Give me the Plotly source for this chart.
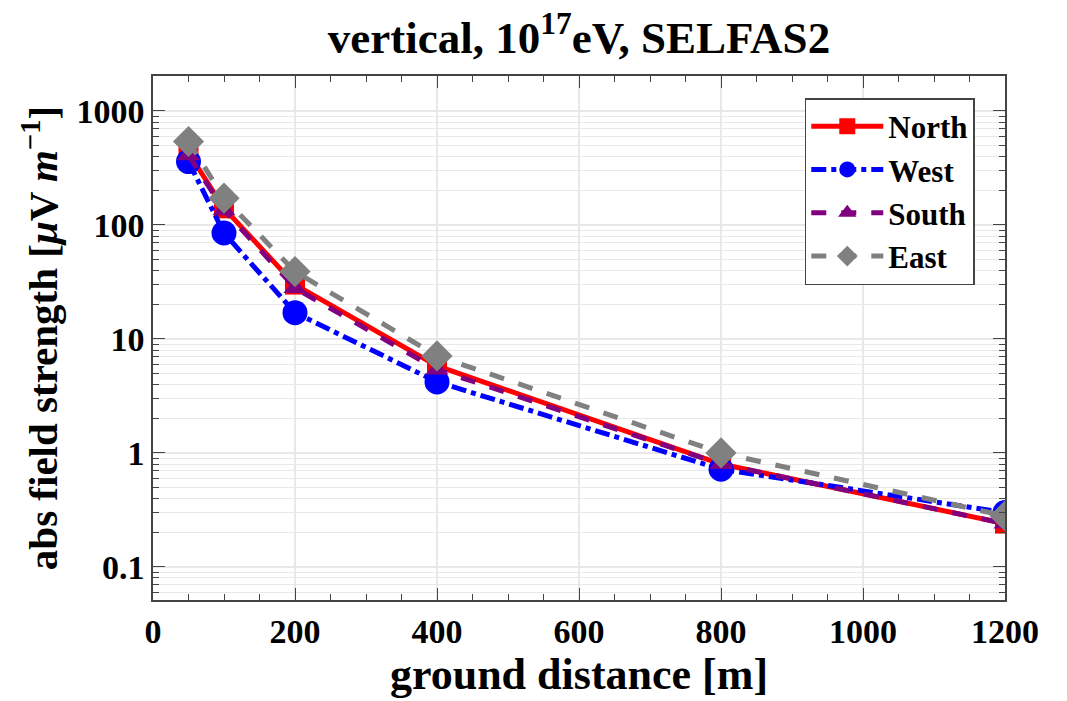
import plotly.graph_objects as go

distance = [50, 100, 200, 400, 800, 1200]
north = [430, 140, 30, 5.8, 0.80, 0.24]
west = [360, 85, 17, 4.2, 0.72, 0.30]
south = [410, 135, 28, 5.4, 0.80, 0.24]
east = [540, 172, 39, 7.1, 1.0, 0.28]

series = [
    ("North", north, "red", "solid", "square", 20),
    ("West", west, "blue", "dashdot", "circle", 25),
    ("South", south, "purple", "dash", "triangle-up", 20),
    ("East", east, "gray", "dash", "diamond", 24),
]

fig = go.Figure()
for name, vals, col, dash, sym, size in series:
    fig.add_trace(go.Scatter(
        x=distance, y=vals, name="<b>%s</b>" % name, mode="lines+markers",
        line=dict(color=col, width=5, dash=dash),
        marker=dict(color=col, symbol=sym, size=size),
    ))

font_family = "Liberation Serif"
fig.update_layout(
    width=1067, height=701,
    margin=dict(l=153, r=62, t=76, b=101),
    paper_bgcolor="white", plot_bgcolor="white",
    font=dict(family=font_family, color="black", size=34),
    title=dict(text="<b>vertical, 10<sup>17</sup>eV, SELFAS2</b>",
               xref="paper", x=0.5, xanchor="center", y=0.947, yanchor="middle",
               font=dict(size=45, family=font_family)),
    legend=dict(x=0.765, y=0.958, xanchor="left", yanchor="top",
                bgcolor="white", bordercolor="#444", borderwidth=1.5,
                font=dict(size=31, family=font_family), itemwidth=72,
                tracegroupgap=0),
    showlegend=True,
)
fig.update_xaxes(
    range=[0, 1200], tickvals=[0, 200, 400, 600, 800, 1000, 1200],
    ticktext=["<b>%d</b>" % v for v in [0, 200, 400, 600, 800, 1000, 1200]],
    showline=True, linecolor="#444", linewidth=1.5, mirror="ticks",
    ticks="inside", ticklen=12, tickcolor="#444",
    showgrid=True, gridcolor="#e8e8e8", gridwidth=1.5,
    minor=dict(dtick=50, ticks="inside", ticklen=6, tickcolor="#444", showgrid=False),
    zeroline=False,
    title=dict(text="<b>ground distance [m]</b>", font=dict(size=44, family=font_family), standoff=4),
    tickfont=dict(size=34),
)
fig.update_yaxes(
    type="log", range=[-1.29, 3.307],
    tickvals=[0.1, 1, 10, 100, 1000],
    ticktext=["<b>0.1</b>", "<b>1</b>", "<b>10</b>", "<b>100</b>", "<b>1000</b>"],
    showline=True, linecolor="#444", linewidth=1.5, mirror="ticks",
    ticks="inside", ticklen=12, tickcolor="#444",
    showgrid=True, gridcolor="#e8e8e8", gridwidth=1.5,
    minor=dict(dtick="D1", ticks="inside", ticklen=6, tickcolor="#444",
               showgrid=True, gridcolor="#e8e8e8", gridwidth=1.2),
    zeroline=False,
    title=dict(text="<b>abs field strength [<i>μ</i>V <i>m</i><sup>−1</sup>]</b>",
               font=dict(size=41, family=font_family), standoff=6),
    tickfont=dict(size=34),
)

fig.write_html("out.html")
